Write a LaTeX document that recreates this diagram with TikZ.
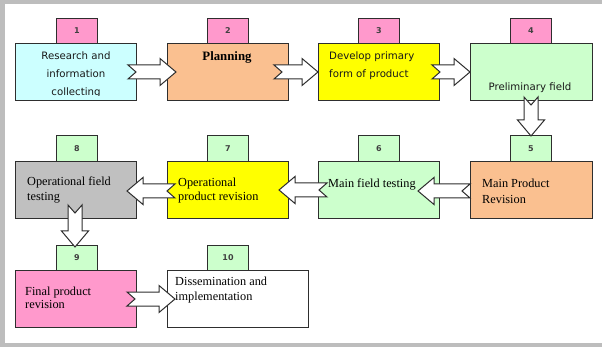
\documentclass[tikz,border=0pt]{standalone}
\usepackage{fontspec}
\setmainfont{Liberation Serif}
\newfontfamily\dejasans{DejaVu Sans}
\definecolor{cyanL}{HTML}{CCFFFF}
\definecolor{orangeL}{HTML}{FAC090}
\definecolor{yellowB}{HTML}{FFFF00}
\definecolor{greenL}{HTML}{CCFFCC}
\definecolor{grayB}{HTML}{C0C0C0}
\definecolor{pinkB}{HTML}{FF99CC}
\definecolor{frameG}{HTML}{BDBDBD}
\definecolor{lineC}{HTML}{2E2E2E}
\begin{document}
\begin{tikzpicture}[x=1pt,y=-1pt,
  box/.style={draw=lineC, line width=1pt, anchor=north west, inner sep=0, minimum width=121pt, minimum height=57pt},
  numbox/.style={draw=lineC, line width=1pt, anchor=north west, inner sep=0, minimum width=41pt, minimum height=25pt, font=\dejasans\bfseries\fontsize{8}{9}\selectfont, text=black!75},
  stxt/.style={font=\dejasans\fontsize{10.2}{18}\selectfont, inner sep=0, text=black!90},
  rtxt/.style={font=\fontsize{12.3}{15}\selectfont, inner sep=0, align=left, anchor=west},
  blk/.style={draw=lineC, fill=white, line width=1pt, line join=miter},
  pics/barrow/.style={code={\path[blk] (0,-7) -- (#1-16,-7) -- (#1-16,-13.5) -- (#1,0) -- (#1-16,13.5) -- (#1-16,7) -- (0,7) -- (8,0) -- cycle;}}
]
\useasboundingbox (0,0) rectangle (602,347);
\fill[white] (0,0) rectangle (602,347);
% frame
\fill[frameG] (0,0) rectangle (602,4);
\fill[frameG] (0,0) rectangle (5,347);
\fill[frameG] (0,343) rectangle (602,347);

% main boxes
\node[box, fill=cyanL] (b1) at (15,43) {};
\node[box, fill=orangeL] (b2) at (167,43) {};
\node[box, fill=yellowB] (b3) at (318,43) {};
\node[box, fill=greenL, minimum width=122pt] (b4) at (470,43) {};
\node[box, fill=grayB] (b8) at (15,161) {};
\node[box, fill=yellowB] (b7) at (167,161) {};
\node[box, fill=greenL] (b6) at (318,161) {};
\node[box, fill=orangeL, minimum width=122pt] (b5) at (470,161) {};
\node[box, fill=pinkB] (b9) at (15,270) {};
\node[box, fill=white, minimum width=141pt] (b10) at (167,270) {};

% number boxes
\node[numbox, fill=pinkB] (n1) at (56,18) {1};
\node[numbox, fill=pinkB] (n2) at (207,18) {2};
\node[numbox, fill=pinkB] (n3) at (358,18) {3};
\node[numbox, fill=pinkB] (n4) at (510,18) {4};
\node[numbox, fill=greenL, minimum height=26pt] (n8) at (56,135) {8};
\node[numbox, fill=greenL, minimum height=26pt] (n7) at (207,135) {7};
\node[numbox, fill=greenL, minimum height=26pt] (n6) at (358,135) {6};
\node[numbox, fill=greenL, minimum height=26pt] (n5) at (510,135) {5};
\node[numbox, fill=greenL] (n9) at (56,245) {9};
\node[numbox, fill=greenL] (n10) at (207,245) {10};

% arrow anchors
\coordinate (t12) at (128,72);
\coordinate (t23) at (274,72);
\coordinate (t34) at (432,72);
\coordinate (t45) at (531,97);
\coordinate (t56) at (470,191);
\coordinate (t67) at (327,190);
\coordinate (t78) at (175,191);
\coordinate (t89) at (75,205);
\coordinate (t910) at (127,299);

\pic at (t12) {barrow=48};
\pic at (t23) {barrow=44};
\pic at (t34) {barrow=38};
\pic[rotate=-90] at (t45) {barrow=39};
\pic[rotate=180] at (t56) {barrow=52};
\pic[rotate=180] at (t67) {barrow=48};
\pic[rotate=180] at (t78) {barrow=48};
\pic[rotate=-90] at (t89) {barrow=42};
\pic at (t910) {barrow=48};

% texts
\begin{scope}
\clip (15,43) rectangle (136,96);
\node[stxt, align=center] (x1) at (76,75) {Research and\\information\\collecting};
\end{scope}
\node[rtxt, font=\bfseries\fontsize{12.8}{15}\selectfont, anchor=center] (x2) at (227,57) {Planning};
\node[stxt, align=left, anchor=west] (x3) at (329,66) {Develop primary\\form of product};
\node[stxt, anchor=center] (x4) at (530,88) {Preliminary field};
\node[rtxt] (x8) at (27,190) {Operational field\\testing};
\node[rtxt, font=\fontsize{12.3}{14}\selectfont] (x7) at (178,191) {Operational\\product revision};
\node[rtxt] (x6) at (328,184) {Main field testing};
\node[rtxt, font=\fontsize{12.3}{16}\selectfont] (x5) at (482,191) {Main Product\\Revision};
\node[rtxt, font=\fontsize{12.3}{13}\selectfont] (x9) at (25,298) {Final product\\revision};
\node[rtxt] (x10) at (175,290) {Dissemination and\\implementation};
\end{tikzpicture}
\end{document}
